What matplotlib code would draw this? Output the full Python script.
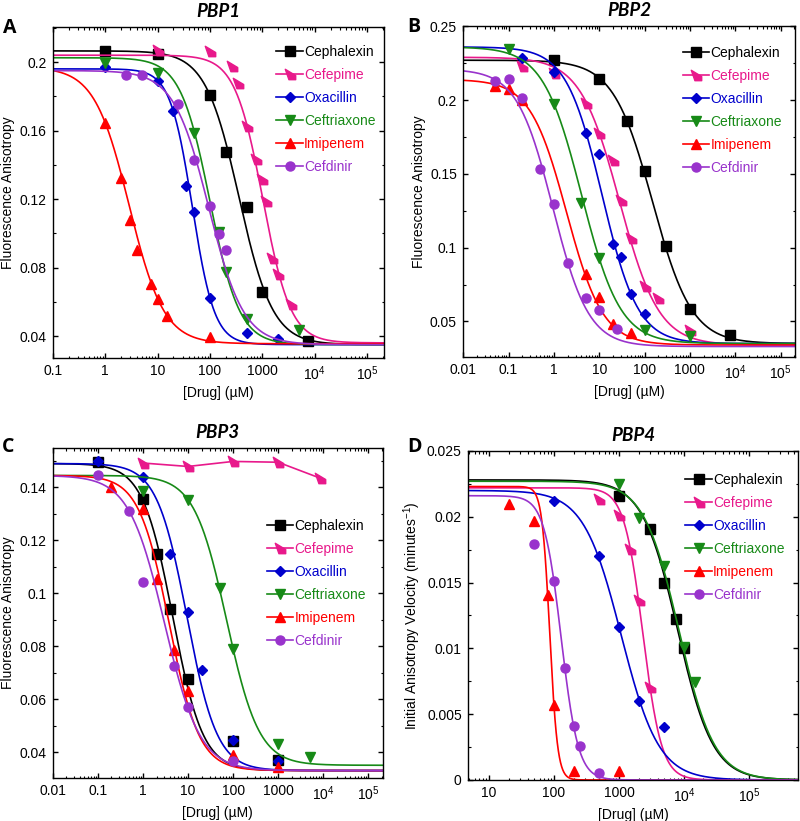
# PBP competition binding curves, four panels

import numpy as np
from matplotlib import pyplot as plt
from matplotlib.path import Path
from matplotlib.legend_handler import HandlerLine2D
from matplotlib.ticker import LogLocator, MultipleLocator, NullFormatter

plt.rcParams['font.family'] = ['Liberation Sans', 'DejaVu Sans']
plt.rcParams['mathtext.fontset'] = 'custom'
plt.rcParams['mathtext.rm'] = 'Liberation Sans'
plt.rcParams['mathtext.default'] = 'regular'

drugs = ['Cephalexin', 'Cefepime', 'Oxacillin', 'Ceftriaxone', 'Imipenem', 'Cefdinir']
colors = ['#000000', '#E8198B', '#0000CC', '#178A17', '#FF0000', '#9933CC']

# pennant-shaped marker used for cefepime
pennant = Path([(-1, 1), (-0.3, -1), (1, -1), (1, -0.2), (-1, 1)], closed=True)
markers = ['s', pennant, 'D', 'v', '^', 'o']
msizes = [6.5, 7.5, 5.5, 6.5, 6.5, 6.5]

# ---- PBP1 ----
pbp1_x = {
    'Cephalexin': [1, 10, 100, 200, 500, 1000, 7500],
    'Cefepime': [10, 100, 260, 350, 500, 750, 1000, 1150, 1500, 2000, 3500],
    'Oxacillin': [1, 10, 20, 35, 50, 100, 500, 2000],
    'Ceftriaxone': [1, 10, 50, 150, 200, 500, 5000],
    'Imipenem': [1, 2, 3, 4, 7.5, 10, 15, 100],
    'Cefdinir': [2.5, 5, 25, 50, 100, 150, 200],
}
pbp1_y = {
    'Cephalexin': [0.2064, 0.2049, 0.1809, 0.1474, 0.1153, 0.0657, 0.0371],
    'Cefepime': [0.2068, 0.2064, 0.1976, 0.1877, 0.1624, 0.1435, 0.1315, 0.1186, 0.0857, 0.0760, 0.0585],
    'Oxacillin': [0.1970, 0.1889, 0.1712, 0.1276, 0.1122, 0.0622, 0.0419, 0.0382],
    'Ceftriaxone': [0.1994, 0.1935, 0.1585, 0.1007, 0.0774, 0.0501, 0.0437],
    'Imipenem': [0.1645, 0.1320, 0.1075, 0.0900, 0.0702, 0.0618, 0.0515, 0.0394],
    'Cefdinir': [0.1922, 0.1922, 0.1756, 0.1429, 0.1159, 0.0997, 0.0900],
}
# fit parameters: top, bottom, IC50, Hill slope
pbp1_fit = {
    'Cephalexin': (0.2065, 0.035, 360, 1.35),
    'Cefepime': (0.204, 0.036, 1020, 1.63),
    'Oxacillin': (0.196, 0.035, 46, 2.05),
    'Ceftriaxone': (0.2025, 0.035, 100, 1.54),
    'Imipenem': (0.197, 0.0355, 2.87, 1.31),
    'Cefdinir': (0.195, 0.035, 95, 1.3),
}

# ---- PBP2 ----
pbp2_x = {
    'Cephalexin': [1, 10, 40, 100, 300, 1000, 7500],
    'Cefepime': [0.2, 1, 5, 10, 20, 30, 50, 100, 200, 1000],
    'Oxacillin': [0.2, 1, 5, 10, 20, 30, 50, 100],
    'Ceftriaxone': [0.1, 1, 4, 10, 100, 1000],
    'Imipenem': [0.05, 0.1, 0.2, 5, 10, 20, 50],
    'Cefdinir': [0.05, 0.1, 0.2, 0.5, 1, 2, 5, 10, 25],
}
pbp2_y = {
    'Cephalexin': [0.2271, 0.2140, 0.1860, 0.1518, 0.1013, 0.0581, 0.0410],
    'Cefepime': [0.2230, 0.2185, 0.1977, 0.1774, 0.1593, 0.1321, 0.1068, 0.0740, 0.0658, 0.0439],
    'Oxacillin': [0.2282, 0.2192, 0.1778, 0.1633, 0.1027, 0.0937, 0.0688, 0.0552],
    'Ceftriaxone': [0.2344, 0.1973, 0.1303, 0.0930, 0.0439, 0.0400],
    'Imipenem': [0.2097, 0.2074, 0.2000, 0.0823, 0.0665, 0.0484, 0.0421],
    'Cefdinir': [0.2129, 0.2140, 0.2016, 0.1536, 0.1294, 0.0898, 0.0658, 0.0579, 0.0450],
}
pbp2_fit = {
    'Cephalexin': (0.227, 0.035, 150, 1.0),
    'Cefepime': (0.229, 0.034, 28, 1.0),
    'Oxacillin': (0.236, 0.035, 11.6, 1.1),
    'Ceftriaxone': (0.236, 0.035, 4.1, 1.02),
    'Imipenem': (0.214, 0.034, 1.9, 1.08),
    'Cefdinir': (0.221, 0.033, 0.95, 1.1),
}

# ---- PBP3 ----
pbp3_x = {
    'Cephalexin': [0.1, 1, 2, 4, 10, 100, 1000],
    'Cefepime': [1, 10, 100, 1000, 8500],
    'Oxacillin': [0.1, 1, 4, 10, 20, 100, 1000],
    'Ceftriaxone': [1, 10, 50, 100, 1000, 5000],
    'Imipenem': [0.2, 1, 2, 5, 10, 100, 1000],
    'Cefdinir': [0.1, 0.5, 1, 5, 10, 100],
}
pbp3_y = {
    'Cephalexin': [0.1495, 0.1356, 0.1148, 0.0940, 0.0677, 0.0440, 0.0369],
    'Cefepime': [0.1492, 0.1479, 0.1498, 0.1495, 0.1435],
    'Oxacillin': [0.1498, 0.1441, 0.1148, 0.0929, 0.0711, 0.0447, 0.0365],
    'Ceftriaxone': [0.1388, 0.1353, 0.1019, 0.0789, 0.0430, 0.0380],
    'Imipenem': [0.1403, 0.1318, 0.1055, 0.0787, 0.0629, 0.0387, 0.0342],
    'Cefdinir': [0.1448, 0.1309, 0.1042, 0.0726, 0.0569, 0.0365],
}
pbp3_fit = {
    'Cephalexin': (0.149, 0.033, 4.6, 1.3),
    'Cefepime': None,  # no fit, points joined
    'Oxacillin': (0.149, 0.033, 9.5, 1.3),
    'Ceftriaxone': (0.1445, 0.035, 72, 1.21),
    'Imipenem': (0.1445, 0.033, 3.8, 1.3),
    'Cefdinir': (0.1445, 0.033, 3.0, 1.1),
}

# ---- PBP4 ----
pbp4_x = {
    'Cephalexin': [1000, 3000, 5000, 7500, 10000],
    'Cefepime': [500, 1000, 1500, 2000, 3000],
    'Oxacillin': [100, 500, 1000, 2000, 5000],
    'Ceftriaxone': [1000, 2000, 5000, 10000, 15000],
    'Imipenem': [20, 50, 80, 100, 200, 1000],
    'Cefdinir': [50, 100, 150, 200, 250, 500],
}
pbp4_y = {
    'Cephalexin': [0.02156, 0.01905, 0.01493, 0.0122, 0.01004],
    'Cefepime': [0.02138, 0.02011, 0.01758, 0.01366, 0.00708],
    'Oxacillin': [0.0212, 0.01705, 0.01161, 0.0060, 0.00405],
    'Ceftriaxone': [0.02247, 0.01994, 0.01624, 0.01007, 0.00746],
    'Imipenem': [0.02095, 0.01966, 0.01409, 0.0057, 0.00068, 0.00068],
    'Cefdinir': [0.01796, 0.0151, 0.00853, 0.0041, 0.0026, 0.00056],
}
pbp4_fit = {
    'Cephalexin': (0.0228, 0.0, 8000, 1.6),
    'Cefepime': (0.0222, 0.0, 2335, 3.0),
    'Oxacillin': (0.022, 0.0, 1084, 1.5),
    'Ceftriaxone': (0.0227, 0.0, 8400, 1.6),
    'Imipenem': (0.0223, 0.0, 86, 7.2),
    'Cefdinir': (0.0216, 0.0, 129, 3.3),
}


class RightMarker(HandlerLine2D):
    # marker near the right end of the legend line
    def get_xdata(self, legend, xdescent, ydescent, width, height, fontsize):
        xdata = np.array([-xdescent, -xdescent + width])
        return xdata, np.array([-xdescent + width * 0.62])


def hill(x, top, bottom, ic50, h):
    return bottom + (top - bottom) / (1 + (x / ic50) ** h)


fig = plt.figure(figsize=(8, 8.21), dpi=100)
W, H = 800.0, 821.0

panels = [
    ('A', 'PBP1', [0.066, 0.564, 0.414, 0.403], pbp1_x, pbp1_y, pbp1_fit,
     (0.1, 2.1e5), (0.0272, 0.2204), [0.04, 0.08, 0.12, 0.16, 0.2], 0.02,
     'Fluorescence Anisotropy', (1.0, 0.972), (3, 28)),
    ('B', 'PBP2', [0.579, 0.565, 0.415, 0.403], pbp2_x, pbp2_y, pbp2_fit,
     (0.01, 2.1e5), (0.0258, 0.25), [0.05, 0.1, 0.15, 0.2, 0.25], 0.025,
     'Fluorescence Anisotropy', (0.985, 0.966), (407, 27)),
    ('C', 'PBP3', [0.066, 0.0524, 0.4125, 0.402], pbp3_x, pbp3_y, pbp3_fit,
     (0.01, 2.1e5), (0.0302, 0.1549), [0.04, 0.06, 0.08, 0.1, 0.12, 0.14], 0.01,
     'Fluorescence Anisotropy', (0.975, 0.81), (2, 447)),
    ('D', 'PBP4', [0.585, 0.050, 0.4125, 0.4007], pbp4_x, pbp4_y, pbp4_fit,
     (4.75, 5.7e5), (0.0, 0.025), [0, 0.005, 0.01, 0.015, 0.02, 0.025], 0.0025,
     'Initial Anisotropy Velocity (minutes$^{-1}$)', (0.985, 0.958), (407, 447)),
]

for letter, title, rect, xs, ys, fits, xlim, ylim, yticks, yminor, ylab, legpos, lpos in panels:
    ax = fig.add_axes(rect)
    ax.set_xscale('log')
    handles = []
    xx = np.logspace(np.log10(xlim[0]), np.log10(xlim[1]), 600)
    for d, c, m, ms in zip(drugs, colors, markers, msizes):
        p = fits[d]
        if p is None:
            ax.plot(xs[d], ys[d], '-', color=c, lw=1.2)
        else:
            ax.plot(xx, hill(xx, *p), '-', color=c, lw=1.2)
        ax.plot(xs[d], ys[d], ls='none', marker=m, color=c, ms=ms, mec=c)
        h, = ax.plot([], [], '-', color=c, lw=1.2, marker=m, ms=ms, mec=c, label=d)
        handles.append(h)

    ax.set_xlim(*xlim)
    ax.set_ylim(*ylim)
    ax.set_yticks(yticks)
    ax.set_yticklabels(['0' if v == 0 else ('%g' % v) for v in yticks])
    ax.yaxis.set_minor_locator(MultipleLocator(yminor))
    ax.xaxis.set_minor_locator(LogLocator(base=10, subs=np.arange(2, 10), numticks=20))
    ax.xaxis.set_minor_formatter(NullFormatter())
    ticks = [t for t in 10.0 ** np.arange(-2, 6) if xlim[0] <= t <= xlim[1]]
    ax.set_xticks(ticks)
    ax.set_xticklabels(['%g' % t if t < 1e4 else '$10^{%d}$' % round(np.log10(t)) for t in ticks])
    ax.tick_params(which='both', direction='in', top=True, right=True, labelsize=10)
    ax.tick_params(which='major', length=3.5, width=1, pad=4.5)
    ax.tick_params(which='minor', length=1.8, width=0.8)
    for s in ax.spines.values():
        s.set_linewidth(1)
    ax.set_xlabel('[Drug] (\u00b5M)', fontsize=10, labelpad=2)
    ax.set_ylabel(ylab, fontsize=10, labelpad=3)
    ax.set_title(title, fontsize=13.5, fontweight='bold', style='italic',
                 family=['Lato', 'Open Sans', 'DejaVu Sans'], pad=7.5)
    fig.text(lpos[0] / W, 1 - lpos[1] / H, letter, fontsize=14, fontweight='bold',
             family=['Open Sans', 'DejaVu Sans'], ha='left', va='center')

    leg = ax.legend(handles=handles, loc='upper right', bbox_to_anchor=legpos, frameon=False,
                    fontsize=10, handlelength=1.9, handletextpad=0.1, labelspacing=0.65,
                    borderaxespad=0.2,
                    handler_map={h: RightMarker(numpoints=1) for h in handles})
    for t, c in zip(leg.get_texts(), colors):
        t.set_color(c)

plt.savefig('out.png', dpi=100)
